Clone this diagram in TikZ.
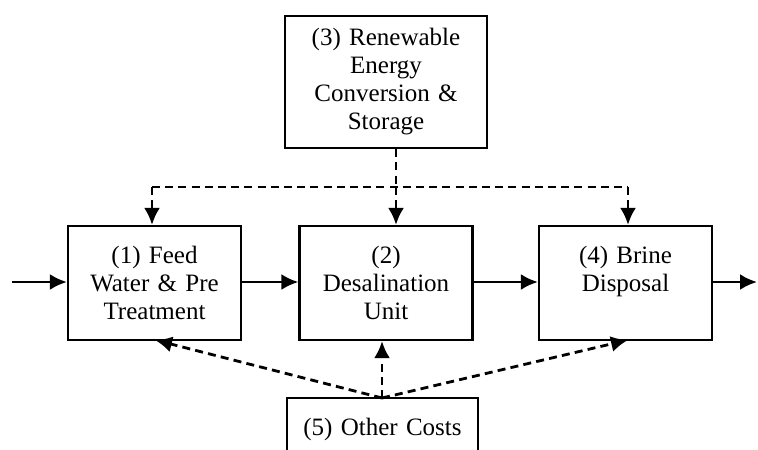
\documentclass[tikz,border=0pt]{standalone}
\usepackage{fontspec}
\setmainfont{Liberation Serif}
\usetikzlibrary{arrows.meta,positioning}

\begin{document}
\begin{tikzpicture}[>={Latex[length=8.5pt,width=8pt]},x=0.5pt,y=-0.5pt,
	font=\fontsize{12.5pt}{14pt}\selectfont]

\tikzset{
	unit/.style={draw,line width=1.1pt,minimum width=86.5pt,minimum height=57pt,
		text width=84pt,align=center,inner sep=0pt},
	flow/.style={->,line width=1.4pt},
	cost/.style={line width=1.4pt,dash pattern=on 4pt off 2.6pt}
}

\useasboundingbox (0,0) rectangle (758,449);
\clip (0,0) rectangle (758,449);

% process chain
\node[unit] (feed) at (154.5,283) {(1) Feed\\Water \& Pre\\Treatment};
\node[unit] (desal) at (386,283) {(2)\\Desalination\\Unit};
\node[unit] (brine) at (625.5,283) {(4) Brine\\Disposal\\~};

% energy supply
\node[unit,minimum width=101pt,minimum height=66pt] (energy) at (386,82)
	{(3) Renewable\\Energy\\Conversion \&\\Storage};

% other costs
\node[unit,minimum width=95.5pt] (other) at (382.5,455) {(5) Other Costs\\~\\~};

\coordinate (in) at (12,282);
\coordinate (out) at (757,282);
\draw[flow] (in) -- (feed.west |- in);
\draw[flow] (feed.east |- in) -- (desal.west |- in);
\draw[flow] (desal.east |- in) -- (brine.west |- in);
\draw[flow] (brine.east |- in) -- (out);

% dashed supply lines
\coordinate (bus) at (396,187);
\coordinate (busl) at (152,187);
\coordinate (busr) at (628,187);
\draw[cost] (energy.south -| bus) -- (bus);
\draw[cost] (busl) -- (busr);
\draw[cost,->] (busl) -- (feed.north -| busl);
\draw[cost,->] (bus) -- (desal.north -| bus);
\draw[cost,->] (busr) -- (brine.north -| busr);

\coordinate (costs) at (382,398);
\draw[cost,->] (costs) -- (155,340);
\draw[cost,->] (costs) -- (desal.south -| costs);
\draw[cost,->] (costs) -- (628,340);

\end{tikzpicture}
\end{document}
